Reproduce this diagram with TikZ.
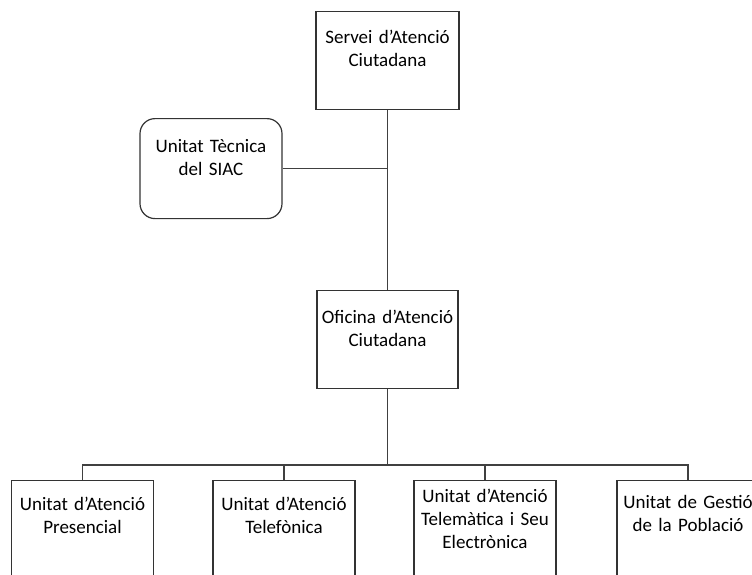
\documentclass[tikz,border=0pt]{standalone}
\usepackage{fontspec}
\setmainfont{Carlito}
\begin{document}
\begin{tikzpicture}[x=1pt,y=-1pt,
  box/.style={draw=black!80, line width=1.2pt, fill=white, inner sep=0pt, anchor=north,
    align=center, text width=#1, font=\fontsize{19}{23}\selectfont},
  box/.default=142pt,
  conn/.style={draw=black!75, line width=1.1pt}]
\useasboundingbox (0,0) rectangle (752,574);
\clip (0,0) rectangle (752,574);
\fill[white] (0,0) rectangle (752,574);

% top
\node[box=143pt, text height=32pt, text depth=66pt] (svc) at (387.5,11) {Servei d’Atenció\\Ciutadana};
\node[box, rounded corners=15pt, text height=34pt, text depth=66pt] (utec) at (211,118) {Unitat Tècnica\\del SIAC};
\node[box=141pt, text height=33pt, text depth=65pt] (oac) at (387.5,290) {Oficina d’Atenció\\Ciutadana};

% bottom
\node[box, text height=30pt, text depth=80pt] (b1) at (82.5,480) {Unitat d’Atenció\\Presencial};
\node[box, text height=30pt, text depth=80pt] (b2) at (284,480) {Unitat d’Atenció\\Telefònica};
\node[box, text height=22pt, text depth=88pt] (b3) at (485,480) {Unitat d’Atenció\\Telemàtica i Seu\\Electrònica};
\node[box, text height=28pt, text depth=82pt] (b4) at (688,480) {Unitat de Gestió\\de la Població};

% connectors
\coordinate (j1) at (svc.south |- utec.east);
\coordinate (bus) at (oac.south |- 0,465);
\draw[conn] (svc.south) -- (oac.north);
\draw[conn] (utec.east) -- (j1);
\draw[conn] (oac.south) -- (bus);
\draw[conn] (b1.north) |- (bus);
\draw[conn] (b2.north) |- (bus);
\draw[conn] (b3.north) |- (bus);
\draw[conn] (b4.north) |- (bus);
\end{tikzpicture}
\end{document}
